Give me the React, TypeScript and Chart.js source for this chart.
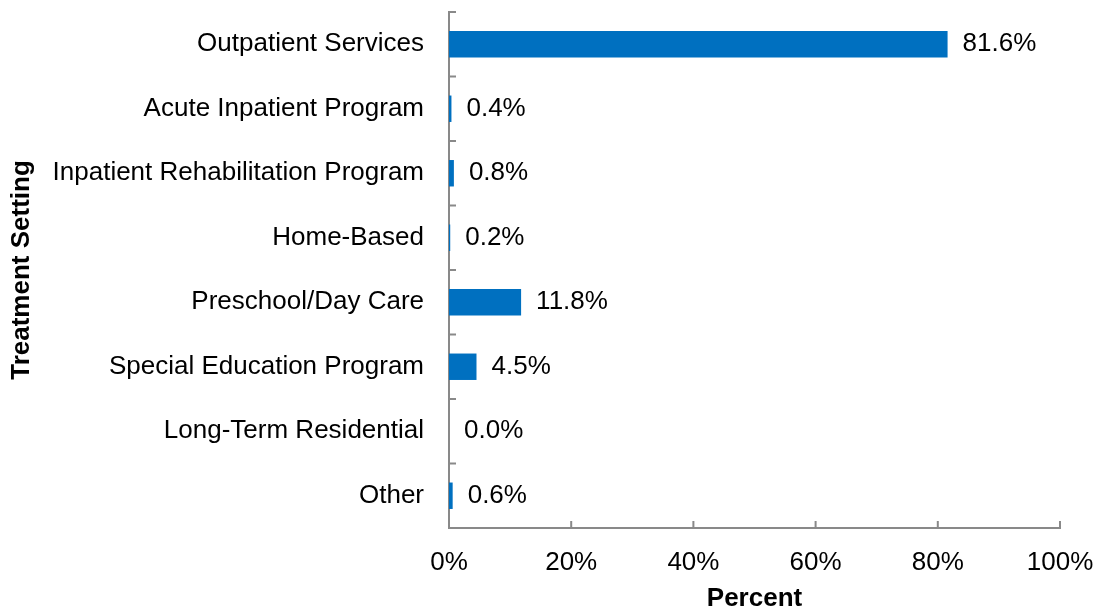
import React, { useEffect, useRef } from "react";
import { Chart, registerables } from "chart.js";

Chart.register(...registerables);

const categories = [
  "Outpatient Services",
  "Acute Inpatient Program",
  "Inpatient Rehabilitation Program",
  "Home-Based",
  "Preschool/Day Care",
  "Special Education Program",
  "Long-Term Residential",
  "Other",
];
const percentValues = [81.6, 0.4, 0.8, 0.2, 11.8, 4.5, 0.0, 0.6];
const xTickValues = [0, 20, 40, 60, 80, 100];

const FONT = "'Liberation Sans', Arial, sans-serif";
const AXIS_COLOR = "#898989";
const BAR_COLOR = "#0070C0";
const LABEL_SIZE = 26;
const TITLE_SIZE = 26;

const tickMarksPlugin = {
  id: "tickMarks",
  afterDraw(chart: any) {
    const ctx = chart.ctx;
    const x = chart.scales.x;
    const y = chart.scales.y;
    const area = chart.chartArea;
    ctx.save();
    ctx.strokeStyle = AXIS_COLOR;
    ctx.lineWidth = 2;
    ctx.beginPath();
    xTickValues.forEach((v) => {
      if (v === 0) return;
      const px = x.getPixelForValue(v);
      ctx.moveTo(px, area.bottom);
      ctx.lineTo(px, area.bottom - 7);
    });
    const band = y.getPixelForValue(1) - y.getPixelForValue(0);
    for (let i = 0; i < categories.length; i++) {
      const py = y.getPixelForValue(i) - band / 2;
      ctx.moveTo(area.left, py);
      ctx.lineTo(area.left + 7, py);
    }
    ctx.stroke();
    ctx.restore();
  },
};

const dataLabelPlugin = {
  id: "dataLabels",
  afterDatasetsDraw(chart: any) {
    const ctx = chart.ctx;
    const meta = chart.getDatasetMeta(0);
    ctx.save();
    ctx.font = `${LABEL_SIZE}px ${FONT}`;
    ctx.fillStyle = "#000";
    ctx.textAlign = "left";
    ctx.textBaseline = "middle";
    meta.data.forEach((bar: any, i: number) => {
      ctx.fillText(percentValues[i].toFixed(1) + "%", bar.x + 15, bar.y);
    });
    ctx.restore();
  },
};

const zeroPadding = (s: any) => {
  s.paddingLeft = 0;
  s.paddingRight = 0;
  s.paddingTop = 0;
  s.paddingBottom = 0;
};

export default function App() {
  const ref = useRef<HTMLCanvasElement>(null);
  useEffect(() => {
    if (!ref.current) return;
    const chart = new Chart(ref.current, {
      type: "bar",
      data: {
        labels: categories,
        datasets: [
          {
            data: percentValues,
            backgroundColor: BAR_COLOR,
            barPercentage: 0.41,
            categoryPercentage: 1,
          },
        ],
      },
      options: {
        indexAxis: "y",
        responsive: false,
        animation: false,
        layout: { padding: { top: 12, right: 43, left: 0, bottom: 0 } },
        plugins: { legend: { display: false }, tooltip: { enabled: false } },
        scales: {
          x: {
            min: 0,
            max: 100,
            afterFit: (s: any) => {
              s.height = 86;
              zeroPadding(s);
            },
            afterBuildTicks: (s: any) => {
              s.ticks = xTickValues.map((v) => ({ value: v }));
            },
            grid: { display: false, drawTicks: false },
            border: { display: true, color: AXIS_COLOR, width: 2 },
            ticks: {
              padding: 19,
              color: "#000",
              font: { family: FONT, size: LABEL_SIZE },
              callback: (v: any) => v + "%",
              maxRotation: 0,
            },
            title: {
              display: true,
              text: "Percent",
              color: "#000",
              font: { family: FONT, size: TITLE_SIZE, weight: "bold" },
              padding: { top: 0, bottom: 0 },
            },
          },
          y: {
            afterFit: (s: any) => {
              s.width = 449;
              zeroPadding(s);
            },
            grid: { display: false, drawTicks: false },
            border: { display: true, color: AXIS_COLOR, width: 2 },
            ticks: {
              padding: 25,
              color: "#000",
              font: { family: FONT, size: LABEL_SIZE },
            },
            title: {
              display: true,
              text: "Treatment Setting",
              color: "#000",
              font: { family: FONT, size: TITLE_SIZE, weight: "bold" },
              padding: { top: 6, bottom: 0 },
            },
          },
        },
      },
      plugins: [tickMarksPlugin, dataLabelPlugin],
    });
    return () => chart.destroy();
  }, []);
  return (
    <div style={{ position: "fixed", left: 0, top: 0, width: 1103, height: 614, background: "#fff" }}>
      <canvas ref={ref} width={1103} height={614} style={{ display: "block" }} />
    </div>
  );
}
